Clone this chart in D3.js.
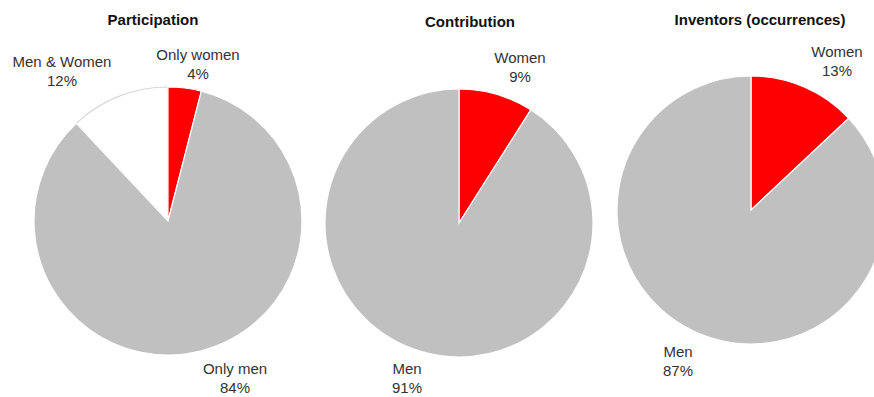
<!DOCTYPE html>
<html lang="en">
<head>
  <meta charset="UTF-8">
  <title>Participation, contribution and inventors by gender</title>
  <script src="https://d3js.org/d3.v7.min.js"></script>
  <style>
    body {
      margin: 0;
      background: #fff;
      font-family: Arial, "Liberation Sans", sans-serif;
    }
    .title {
      font-weight: bold;
      font-size: 15px;
      fill: #111;
    }
    .label {
      font-size: 15px;
      fill: #333;
    }
  </style>
</head>
<body>
  <div id="chart"></div>

  <script>
    // data
    const titles = ["Participation", "Contribution", "Inventors (occurrences)"];
    const participationCats = ["Only women", "Only men", "Men & Women"];
    const participationVals = [4, 84, 12];
    const contributionCats = ["Women", "Men"];
    const contributionVals = [9, 91];
    const inventorsCats = ["Women", "Men"];
    const inventorsVals = [13, 87];

    const colors = {
      "Only women": "#ff0000", "Women": "#ff0000",
      "Only men": "#c0c0c0", "Men": "#c0c0c0",
      "Men & Women": "#ffffff"
    };

    // layout: pie centres and where each label sits (relative to the centre)
    const pies = [
      { title: titles[0], cats: participationCats, vals: participationVals, cx: 168, cy: 221, tx: 153, ty: 25,
        labels: { "Only women": [30, -161], "Only men": [67, 153], "Men & Women": [-106, -154] } },
      { title: titles[1], cats: contributionCats, vals: contributionVals, cx: 459, cy: 223, tx: 470, ty: 27,
        labels: { "Women": [61, -160], "Men": [-52, 151] } },
      { title: titles[2], cats: inventorsCats, vals: inventorsVals, cx: 751, cy: 210, tx: 760, ty: 25,
        labels: { "Women": [86, -153], "Men": [-73, 147] } }
    ];
    const radius = 134;

    const width = 874, height = 397;
    const svg = d3.select("#chart").append("svg")
      .attr("width", width)
      .attr("height", height);

    const pie = d3.pie().sort(null).value(d => d.value);
    const arc = d3.arc().innerRadius(0).outerRadius(radius);

    pies.forEach(p => {
      const rows = p.cats.map((c, i) => ({ cat: c, value: p.vals[i] }));
      const g = svg.append("g").attr("transform", `translate(${p.cx},${p.cy})`);

      g.selectAll("path")
        .data(pie(rows))
        .join("path")
        .attr("d", arc)
        .attr("fill", d => colors[d.data.cat])
        .attr("stroke", d => d.data.cat === "Men & Women" ? "#d8d8d8" : "#fff")
        .attr("stroke-width", 1.2);

      // keep the white borders of coloured slices on top
      g.selectAll("path").filter(d => d.data.cat !== "Men & Women").raise();

      svg.append("text")
        .attr("class", "title")
        .attr("x", p.tx)
        .attr("y", p.ty)
        .attr("text-anchor", "middle")
        .text(p.title);

      const lab = g.selectAll("text.label")
        .data(rows)
        .join("text")
        .attr("class", "label")
        .attr("text-anchor", "middle")
        .attr("transform", d => `translate(${p.labels[d.cat][0]},${p.labels[d.cat][1]})`);
      lab.append("tspan").attr("x", 0).attr("dy", 0).text(d => d.cat);
      lab.append("tspan").attr("x", 0).attr("dy", 19).text(d => d.value + "%");
    });
  </script>
</body>
</html>
